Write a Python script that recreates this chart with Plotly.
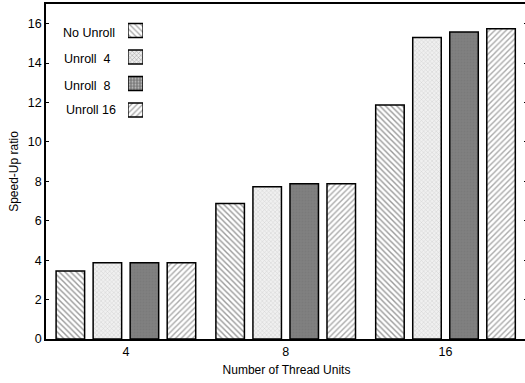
import plotly.graph_objects as go

categories = ["4", "8", "16"]
series_names = ["No Unroll", "Unroll  4", "Unroll  8", "Unroll 16"]
no_unroll = [3.45, 6.88, 11.88]
unroll_4 = [3.87, 7.72, 15.3]
unroll_8 = [3.87, 7.88, 15.58]
unroll_16 = [3.87, 7.88, 15.74]
y_ticks = [0, 2, 4, 6, 8, 10, 12, 14, 16]

values = [no_unroll, unroll_4, unroll_8, unroll_16]
styles = [
    dict(color="white", pattern=dict(shape="\\", fgcolor="#333333", bgcolor="white", size=4, solidity=0.35)),
    dict(color="#eeeeee", pattern=dict(shape="x", fgcolor="#b0b0b0", bgcolor="#f0f0f0", size=3, solidity=0.3)),
    dict(color="#7c7c7c", pattern=dict(shape=".", fgcolor="#747474", bgcolor="#808080", size=3, solidity=0.3)),
    dict(color="white", pattern=dict(shape="/", fgcolor="#555555", bgcolor="white", size=4, solidity=0.35)),
]

FONT = "Liberation Sans, Arial, sans-serif"
W, H = 527, 383

fig = go.Figure()
for name, vals, st in zip(series_names, values, styles):
    fig.add_trace(go.Bar(
        x=categories, y=vals, name=name, showlegend=False,
        marker=dict(color=st["color"], pattern=st["pattern"],
                    line=dict(color="black", width=1.5)),
    ))

# legend swatches (text on left, swatch on right)
fig.add_trace(go.Bar(
    y=[0, 1, 2, 3], x=[1, 1, 1, 1], base=0, orientation="h", width=0.53,
    xaxis="x2", yaxis="y2", showlegend=False, hoverinfo="skip",
    marker=dict(
        color=[s["color"] for s in styles],
        pattern=dict(
            shape=[s["pattern"]["shape"] for s in styles],
            fgcolor=[s["pattern"]["fgcolor"] for s in styles],
            bgcolor=[s["pattern"]["bgcolor"] for s in styles],
            size=[4, 3, 3, 4],
            solidity=0.3,
        ),
        line=dict(color="black", width=1.3),
    ),
))

PT, PB, PL, PR = 4, 339, 46, W
def px(p):
    return (p - PL) / (PR - PL)
def py(p):
    return (PB - p) / (PB - PT)

label_y = [33, 59, 86, 110]
label_x = [117, 113, 113, 118]
for name, ly, lx in zip(series_names, label_y, label_x):
    fig.add_annotation(
        text=name.replace("  ", "&nbsp; "), xref="paper", yref="paper",
        x=px(lx), y=py(ly), xanchor="right", yanchor="middle",
        showarrow=False, font=dict(family=FONT, size=12.5, color="black"),
    )

fig.update_layout(
    width=W, height=H,
    margin=dict(l=PL, r=W - PR, t=PT, b=H - PB),
    paper_bgcolor="white", plot_bgcolor="white",
    barmode="group", bargap=0.073, bargroupgap=0.23,
    font=dict(family=FONT, size=12, color="black"),
    xaxis=dict(
        type="category", range=[-0.5, 2.51], showline=True, linecolor="black",
        linewidth=1.5, mirror=True, ticks="", showgrid=False, automargin=False,
        title=dict(text="Number of Thread Units", font=dict(size=12), standoff=8),
        tickfont=dict(size=12.5),
    ),
    yaxis=dict(
        range=[0, 17], tickvals=y_ticks, showline=True, linecolor="black",
        linewidth=1.5, mirror="ticks", ticks="inside", ticklen=3,
        tickcolor="black", showgrid=False, zeroline=False, automargin=False,
        title=dict(text="Speed-Up ratio", font=dict(size=12), standoff=7),
        tickfont=dict(size=12.5),
    ),
    xaxis2=dict(domain=[px(128), px(143)], range=[0, 1],
                visible=False, fixedrange=True, anchor="y2"),
    yaxis2=dict(domain=[py(123.25), py(17.25)], range=[3.5, -0.5],
                visible=False, fixedrange=True, anchor="x2"),
)

fig.write_html(
    "out.html",
    config={"displayModeBar": False},
    post_script="document.body.style.margin='0';document.body.style.overflow='hidden';",
)
